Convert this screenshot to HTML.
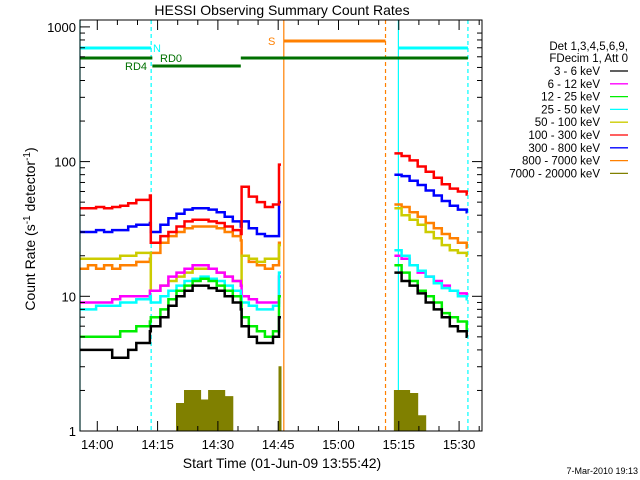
<!DOCTYPE html>
<html><head><meta charset="utf-8"><style>
body{margin:0;background:#fff}
svg{display:block;font-family:"Liberation Sans",sans-serif}
</style></head><body>
<svg id="c" width="640" height="480" xmlns="http://www.w3.org/2000/svg">
<rect width="640" height="480" fill="#fff"/>
<text x="282" y="15" font-size="14" text-anchor="middle">HESSI Observing Summary Count Rates</text>
<text x="282" y="468" font-size="14" text-anchor="middle">Start Time (01-Jun-09 13:55:42)</text>
<text transform="translate(35,229) rotate(-90)" font-size="14" text-anchor="middle">Count Rate (s<tspan font-size="10" dy="-5">-1</tspan><tspan dy="5"> detector</tspan><tspan font-size="10" dy="-5">-1</tspan><tspan dy="5">)</tspan></text>
<text x="638" y="474" font-size="9" text-anchor="end">7-Mar-2010 19:13</text>
<g id="marks"></g>
<g id="axes"></g>
<g id="legend"></g>
</svg>
<script>
const T1=[0,2,4,6,8,10,12,14,17.4, 17.6,20,22,24,26,28,30,32,34,36,38,40, 40.2,42,44,46,48,49.5];
const T2=[78.2,80,82,84,86,88,90,92,94,96.2];
const labels=["3 - 6 keV","6 - 12 keV","12 - 25 keV","25 - 50 keV","50 - 100 keV","100 - 300 keV","300 - 800 keV","800 - 7000 keV","7000 - 20000 keV"];
const colors=["#000000","#ff00ff","#00ee00","#00ffff","#cccc00","#ff0000","#0000ff","#ff8000","#808000"];
const s1_black=[4,4,4,4,3.5,3.5,4,4.5,5.5, 6,7,8.5,10,11,12,12,11.5,11,10,9,8, 6,5,4.5,4.5,5,7];
const s1_mag=[9,9,9,9,9.5,10,10,10,11, 11,12,14,15,16,17,17,16,15,14,13,12, 10,9.5,9,9,9,14];
const s1_green=[5,5,5,5,5,5.5,5.5,6,6.5, 7,8,9.5,11,12,13,13.5,13,12,11,10,9, 7,6,5.5,5,5.5,10];
const s1_cyan=[8,8,8.5,8.5,8.5,9,9,9.5,10, 9,10,11,12,13,13.5,14,13.5,13,12,11,10, 9,8.5,8,8,8.5,15];
const s1_yellow=[19,19,19,19,19,20,20,21,21, 11,12,13,14,15,16,16,16,15,14,13,12, 20,19,18,19,19,24];
const s1_red=[45,45,46,45,46,47,49,52,56, 25,28,30,33,36,37,37,36,35,33,31,29, 65,55,50,46,48,95];
const s1_blue=[30,30,31,30,31,31,33,34,35, 30,34,38,41,44,45,45,44,42,39,36,33, 36,32,29,28,28,50];
const s1_orange=[16,17,16,17,16,17,17,18,19, 21,25,28,30,32,33,33,33,32,30,28,26, 20,18,17,16,17,25];
const s1_olive=[1,1,1,1,1,1,1,1,1, 1,1,1,1.6,2,2,1.7,2,2,1.8,1,1, 1,1,1,1,1,3];
const s2_black=[15,13,12,10.5,9,8,7,6,5.5,5];
const s2_mag=[20,19,17,15,14,13,12,11,10.5,10];
const s2_green=[17,15,13,11,10,9,7.5,7,6.5,5.5];
const s2_cyan=[22,20,17,15.5,14,12.5,11.5,11,10,9.5];
const s2_yellow=[45,40,37,34,30,27,24,22,21,20];
const s2_red=[115,110,102,92,84,76,68,63,60,57];
const s2_blue=[80,78,72,67,61,56,51,47,44,42];
const s2_orange=[48,46,42,39,35,32,29,27,25,23];
const s2_olive=[2,2,1.9,1.3,1,1,1,1,1,1];
const seg1=[s1_black,s1_mag,s1_green,s1_cyan,s1_yellow,s1_red,s1_blue,s1_orange,s1_olive];
const seg2=[s2_black,s2_mag,s2_green,s2_cyan,s2_yellow,s2_red,s2_blue,s2_orange,s2_olive];
const xTickLabels=["14:00","14:15","14:30","14:45","15:00","15:15","15:30"];
const yTickLabels=["1","10","100","1000"];

const X0=80,X1=482,Y0=431,PXD=134.7;
const xs=t=>X0+t*4.02;
const ys=v=>Y0-Math.log10(Math.max(v,1))*PXD;
const NS="http://www.w3.org/2000/svg";
function mk(tag,at,parent){const e=document.createElementNS(NS,tag);for(const k in at)e.setAttribute(k,at[k]);parent.appendChild(e);return e;}
const marks=document.getElementById('marks'),axes=document.getElementById('axes'),leg=document.getElementById('legend');

function stepPath(T,V,tEnd){let d='';for(let i=0;i<T.length;i++){const x=xs(T[i]),y=ys(V[i]);d+=(i?'L':'M')+x.toFixed(1)+' '+y.toFixed(1);const xn=xs(i<T.length-1?T[i+1]:tEnd);d+='L'+xn.toFixed(1)+' '+y.toFixed(1);}return d;}

const vl=[[0,'#00ffff',null],[17.7,'#00ffff','4,3'],[79.2,'#00ffff',null],[96.5,'#00ffff','4,3'],[50.7,'#ff8000',null],[76,'#ff8000','4,3']];
vl.forEach(v=>{const l=mk('line',{x1:xs(v[0]),x2:xs(v[0]),y1:20,y2:Y0,stroke:v[1],'stroke-width':1.2},marks);if(v[2])l.setAttribute('stroke-dasharray',v[2]);

});
function bar(t1,t2,y,c,name){const l=mk('line',{x1:xs(t1),x2:xs(t2),y1:y,y2:y,stroke:c,'stroke-width':3},marks);

}
bar(0,17.7,48,'#00ffff','night-bar');bar(79.2,96.5,48,'#00ffff','night-bar');
bar(50.7,76,41,'#ff8000','saa-bar');
bar(0,18,58,'#007000','rd0-bar');bar(40,96.5,58,'#007000','rd0-bar');bar(18,40,66,'#007000','rd4-bar');
function lab(x,y,t,c,name){const e=mk('text',{x:x,y:y,fill:c,'font-size':11},marks);e.textContent=t;

}
lab(153,52,'N','#00ffff','night-label');lab(268,45,'S','#ff8000','saa-label');lab(160,62,'RD0','#007000','rd0-label');lab(125,70,'RD4','#007000','rd4-label');

const order=[8,7,4,1,3,2,0,6,5];
order.forEach(i=>{[[T1,seg1[i],50],[T2,seg2[i],96.4]].forEach(s=>{
 const d=stepPath(s[0],s[1],s[2]);
 let p;
 if(i===8){p=mk('path',{d:d+'L'+xs(s[2])+' '+Y0+'L'+xs(s[0][0])+' '+Y0+'Z',fill:colors[i],stroke:colors[i],'stroke-width':1},marks);}
 else p=mk('path',{d:d,fill:'none',stroke:colors[i],'stroke-width':2.5},marks);
 
 
});});

mk('rect',{x:X0,y:20,width:X1-X0,height:Y0-20,fill:'none',stroke:'#000','stroke-width':1},axes);
for(let d=0;d<3;d++)for(let m=1;m<10;m++){const y=Y0-(d+Math.log10(m))*PXD;const L=m===1?10:5;
 mk('line',{x1:X0,x2:X0+L,y1:y,y2:y,stroke:'#000'},axes);mk('line',{x1:X1-L,x2:X1,y1:y,y2:y,stroke:'#000'},axes);}
mk('line',{x1:X0,x2:X0+10,y1:Y0-3*PXD,y2:Y0-3*PXD,stroke:'#000'},axes);
yTickLabels.forEach((t,i)=>{const e=mk('text',{x:X0-4,y:Y0-i*PXD+5,'font-size':13,'text-anchor':'end'},axes);e.textContent=t;

});
for(let k=0;k<21;k++){const t=4.3+k*5;const x=xs(t);if(x>X1)break;const L=k%3===0?10:5;
 mk('line',{x1:x,x2:x,y1:Y0,y2:Y0-L,stroke:'#000'},axes);mk('line',{x1:x,x2:x,y1:20,y2:20+L,stroke:'#000'},axes);}
xTickLabels.forEach((t,i)=>{const e=mk('text',{x:xs(4.3+i*15),y:449,'font-size':13,'text-anchor':'middle'},axes);e.textContent=t;

});

const hd=[['Det 1,3,4,5,6,9,',50],['FDecim 1, Att 0',62]];
hd.forEach(h=>{const e=mk('text',{x:628,y:h[1],'font-size':11.5,'text-anchor':'end'},leg);e.textContent=h[0];

});
labels.forEach((t,i)=>{const y=75+i*12.8;const e=mk('text',{x:600,y:y,'font-size':11.5,'text-anchor':'end'},leg);e.textContent=t;


const l=mk('line',{x1:610,x2:628,y1:y-4,y2:y-4,stroke:colors[i],'stroke-width':1.3},leg);

});
</script>
</body></html>
